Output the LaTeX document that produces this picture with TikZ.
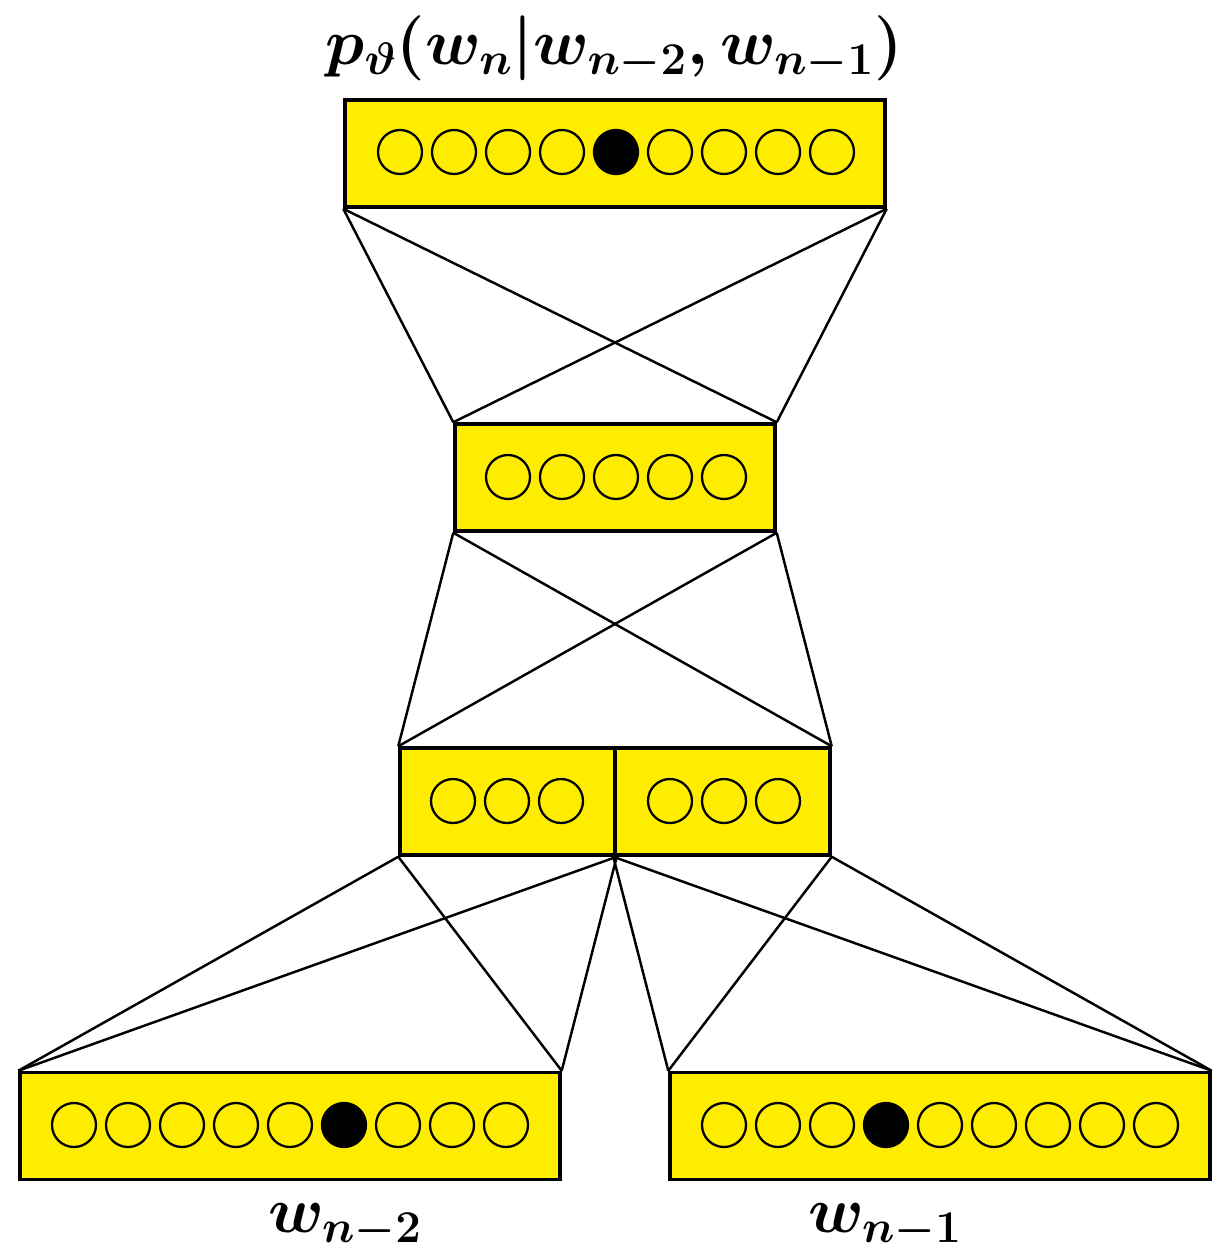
\documentclass[tikz,border=0pt]{standalone}
\usepackage{fix-cm}
\usepackage{amsmath}
\usetikzlibrary{calc}
\definecolor{layeryellow}{RGB}{255,237,0}

\begin{document}
\begin{tikzpicture}[x=0.02cm, y=-0.02cm,
  layer/.style={draw, line width=2pt, fill=layeryellow,
                minimum height=2.14cm, inner sep=0pt},
  unit/.style ={circle, draw, line width=1.3pt, fill=layeryellow,
                minimum size=0.88cm, inner sep=0pt},
  word/.style ={unit, fill=black},
  wire/.style ={line width=1.4pt},
  lbl/.style  ={font=\fontsize{37}{40}\selectfont\boldmath}
]
  \useasboundingbox (0,0) rectangle (1230,1255);

  %% ── Layers (boxes) ──────────────────────────────────────────────────────
  \node[layer, minimum width=10.8cm] (out)  at (615,153.5)  {};
  \node[layer, minimum width=6.4cm]  (hid)  at (615,477.5)  {};
  \node[layer, minimum width=4.3cm]  (midl) at (507.5,801.5) {};
  \node[layer, minimum width=4.3cm]  (midr) at (722.5,801.5) {};
  \node[layer, minimum width=10.8cm] (inl)  at (290,1126)   {};
  \node[layer, minimum width=10.8cm] (inr)  at (940,1126)   {};

  %% ── Units ───────────────────────────────────────────────────────────────
  \foreach \i in {0,...,8}{
    \ifnum\i=4 \node[word] (o\i) at ({400+54*\i},152) {};
    \else      \node[unit] (o\i) at ({400+54*\i},152) {};
    \fi
  }
  \foreach \i in {0,...,4}
    \node[unit] (h\i) at ({508+54*\i},477) {};
  \foreach \i in {0,...,2}{
    \node[unit] (ml\i) at ({453+54*\i},801) {};
    \node[unit] (mr\i) at ({670+54*\i},801) {};
  }
  \foreach \i in {0,...,8}{
    \ifnum\i=5 \node[word] (a\i) at ({74+54*\i},1125) {};
    \else      \node[unit] (a\i) at ({74+54*\i},1125) {};
    \fi
    \ifnum\i=3 \node[word] (b\i) at ({724+54*\i},1125) {};
    \else      \node[unit] (b\i) at ({724+54*\i},1125) {};
    \fi
  }

  %% ── Connections between layers ──────────────────────────────────────────
  \foreach \a in {south west, south east}
    \foreach \b in {north west, north east}
      \draw[wire] (out.\a) -- (hid.\b);
  \foreach \a in {south west, south east}{
    \draw[wire] (hid.\a) -- (midl.north west);
    \draw[wire] (hid.\a) -- (midr.north east);
  }
  \foreach \a in {south west, south east}
    \foreach \b in {north west, north east}{
      \draw[wire] (midl.\a) -- (inl.\b);
      \draw[wire] (midr.\a) -- (inr.\b);
    }

  %% ── Labels ──────────────────────────────────────────────────────────────
  \node[lbl] (ptop) at (614,48)   {$p_{\vartheta}(w_n|w_{n-2},w_{n-1})$};
  \node[lbl] (wl)   at (345,1226) {$w_{n-2}$};
  \node[lbl] (wr)   at (885,1226) {$w_{n-1}$};
\end{tikzpicture}
\end{document}
